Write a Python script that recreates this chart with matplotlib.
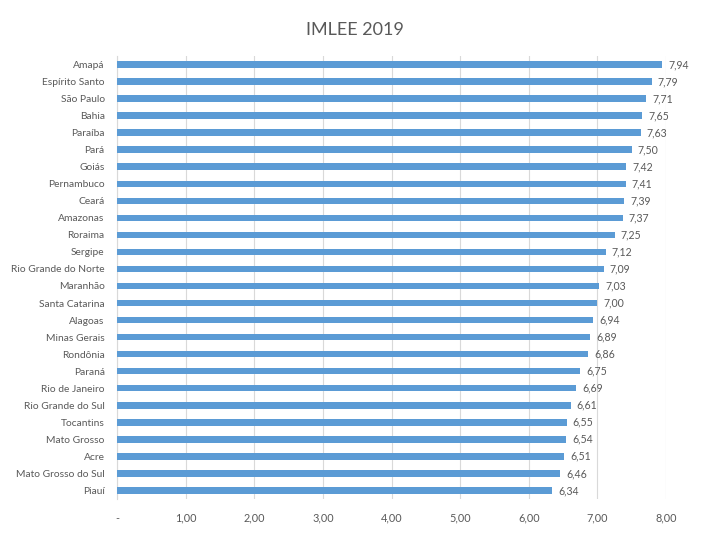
import matplotlib

matplotlib.use("Agg")
import matplotlib.pyplot as plt

plt.rcParams["font.family"] = ["Lato", "DejaVu Sans"]

states = ["Amapá", "Espírito Santo", "São Paulo", "Bahia", "Paraíba", "Pará",
          "Goiás", "Pernambuco", "Ceará", "Amazonas", "Roraima", "Sergipe",
          "Rio Grande do Norte", "Maranhão", "Santa Catarina", "Alagoas",
          "Minas Gerais", "Rondônia", "Paraná", "Rio de Janeiro",
          "Rio Grande do Sul", "Tocantins", "Mato Grosso", "Acre",
          "Mato Grosso do Sul", "Piauí"]
scores = [7.94, 7.79, 7.71, 7.65, 7.63, 7.50, 7.42, 7.41, 7.39, 7.37, 7.25,
          7.12, 7.09, 7.03, 7.00, 6.94, 6.89, 6.86, 6.75, 6.69, 6.61, 6.55,
          6.54, 6.51, 6.46, 6.34]
xticks = [0, 1, 2, 3, 4, 5, 6, 7, 8]
xticklabels = ["-", "1,00", "2,00", "3,00", "4,00", "5,00", "6,00", "7,00", "8,00"]

text_col = "#595959"
fig = plt.figure(figsize=(7.1, 5.43), dpi=100)
ax = fig.add_axes([0.165, 0.081, 0.773, 0.816])

y = list(range(len(states)))[::-1]
ax.barh(y, scores, height=0.38, color="#5B9BD5", zorder=3)
for yi, v in zip(y, scores):
    ax.text(v + 0.09, yi, f"{v:.2f}".replace(".", ","), va="center", ha="left",
            fontsize=7.6, color=text_col)

ax.set_yticks(y)
ax.set_yticklabels(states, fontsize=7.4, color=text_col)
ax.set_xticks(xticks)
ax.set_xticklabels(xticklabels, fontsize=7.8, color=text_col)
ax.set_xlim(0, 8)
ax.set_ylim(-0.5, len(states) - 0.5)
ax.grid(axis="x", color="#D9D9D9", linewidth=0.8, zorder=0)
ax.tick_params(axis="y", length=0, pad=9)
ax.tick_params(axis="x", length=0, pad=10)
for s in ["top", "right", "bottom"]:
    ax.spines[s].set_visible(False)
ax.spines["left"].set_color("#D9D9D9")

fig.text(0.5, 0.945, "IMLEE 2019", ha="center", va="center", fontsize=13,
         color=text_col)

fig.savefig("out.png", dpi=100)
